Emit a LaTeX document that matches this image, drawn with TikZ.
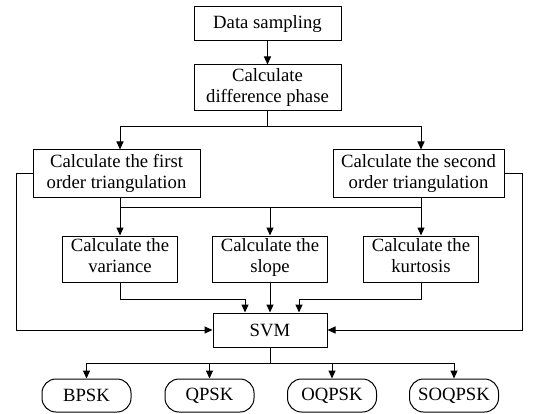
\documentclass[tikz,border=0pt]{standalone}
\usepackage{fontspec}
\setmainfont{Liberation Serif}
\usepackage{tikz}
\usetikzlibrary{arrows.meta}

\begin{document}
\begin{tikzpicture}[x=1pt,y=-1pt,line width=1pt,>={Triangle[length=8pt,width=7pt]},
	box/.style={draw,inner sep=0pt,align=center,font=\fontsize{18.7}{21}\selectfont},
	calc/.style={box,minimum width=115pt,minimum height=46pt,execute at end node=\strut},
	classbox/.style={box,rounded corners=14pt,minimum width=89pt,minimum height=33pt}]
	\useasboundingbox (0,0) rectangle (540,414);

	% steps
	\node[box,minimum width=147pt,minimum height=34pt] (samp) at (267.5,24) {Data sampling};
	\node[box,minimum width=147pt,minimum height=46pt] (diff) at (267.5,88) {Calculate\\difference phase};
	\node[box,minimum width=167pt,minimum height=47pt] (first) at (116.5,173.5) {Calculate the first\\order triangulation};
	\node[box,minimum width=171pt,minimum height=47pt] (second) at (418.5,173.5) {Calculate the second\\order triangulation};

	\node[calc] (var) at (120,259) {Calculate the\\variance};
	\node[calc] (slope) at (270,259) {Calculate the\\slope};
	\node[calc] (kurt) at (421,259) {Calculate the\\kurtosis};

	\node[box,minimum width=114pt,minimum height=34pt] (svm) at (270,330) {SVM};

	\foreach \m/\x/\mtext in {bpsk/86.5/BPSK, qpsk/209.5/QPSK, oqpsk/332/OQPSK, soqpsk/454/SOQPSK}
		\node[classbox] (\m) at (\x,395.5) {\mtext};

	% connectors
	\coordinate (split) at (267.5,127);
	\coordinate (mid) at (270,207);
	\coordinate (fan) at (270,363);

	\draw[->] (samp) -- (diff);
	\draw (diff.south) -- (split);
	\draw[->] (split) -| (var.north |- first.north);
	\draw[->] (split) -| (kurt.north |- second.north);

	\draw[->] (var.north |- first.south) -- (var.north);
	\draw[->] (kurt.north |- second.south) -- (kurt.north);
	\draw (var.north |- mid) -- (kurt.north |- mid);
	\draw[->] (mid) -- (slope.north);

	\draw[->] (var.south) -- ++(0,17) -| ([xshift=-25pt]svm.north);
	\draw[->] (slope) -- (svm);
	\draw[->] (kurt.south) -- ++(0,17) -| ([xshift=29pt]svm.north);

	\draw[->] (first.west) -- ++(-16,0) |- (svm.west);
	\draw[->] (second.east) -- ++(18,0) |- (svm.east);

	\draw (svm.south) -- (fan);
	\foreach \m in {bpsk,qpsk,oqpsk,soqpsk}
		\draw[->] (fan) -| (\m.north);

\end{tikzpicture}
\end{document}
